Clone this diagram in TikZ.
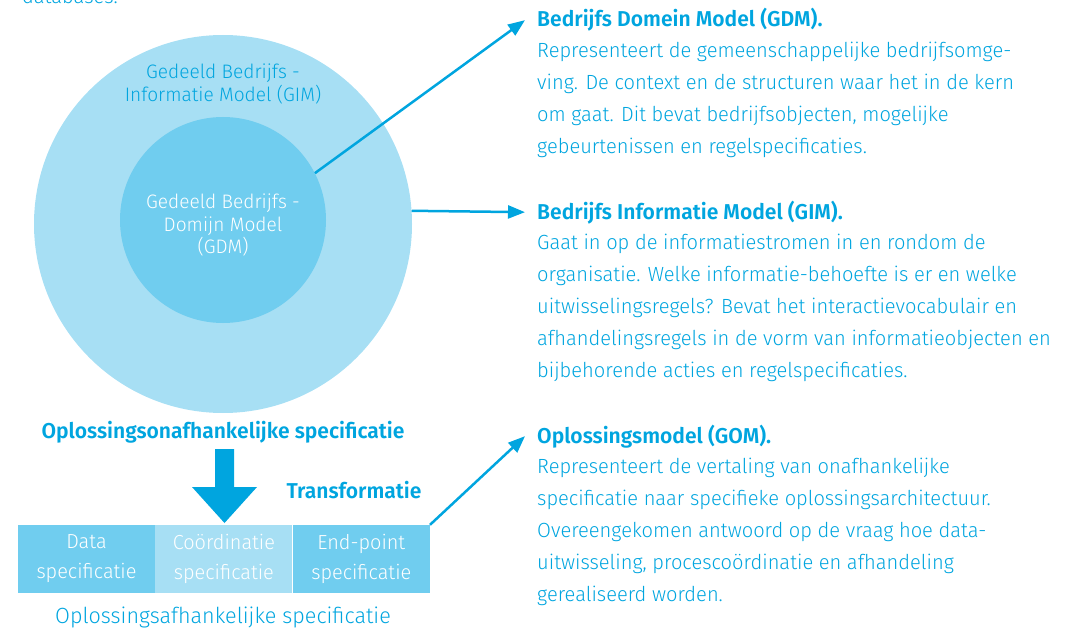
\documentclass[tikz,border=0pt]{standalone}
\usepackage{fontspec}
\setmainfont{Fira Sans}[UprightFont=* Light,BoldFont=* SemiBold,FakeStretch=0.98]
\usetikzlibrary{positioning,arrows.meta}
\definecolor{skyblue}{HTML}{00A5DF}
\definecolor{paleblue}{HTML}{A7DFF4}
\definecolor{midblue}{HTML}{70CDEF}
\newcommand{\bodysize}{\fontsize{20.5}{32}\selectfont}
\newcommand{\headsize}{\fontsize{21.5}{32}\selectfont}
\newcommand{\labelsize}{\fontsize{19.5}{22.5}\selectfont}
\newcommand{\boxsize}{\fontsize{20.3}{30}\selectfont}

\begin{document}
\begin{tikzpicture}[x=1pt,y=-1pt,
	headtext/.style={anchor=base west,inner xsep=12pt,font=\headsize\bfseries,text=skyblue},
	bodytext/.style={anchor=north west,align=left,font=\bodysize,text=skyblue},
	ringlabel/.style={align=center,font=\labelsize},
	specbox/.style={minimum width=137pt,minimum height=68pt,align=center,font=\boxsize,text=white},
	pointer/.style={draw=skyblue,line width=2.5pt,-{Triangle[length=17pt,width=13pt]}}]
	\tikzstyle{every node}+=[inner sep=0pt]
	\useasboundingbox (0,0) rectangle (1073,631);
	\clip (0,0) rectangle (1073,631);
	% cut-off text at the top
	\node [anchor=base west,font=\bodysize,text=skyblue] (cutoff) at (22,4) {databases.};
	% the two rings
	\node [circle,fill=paleblue,minimum size=378pt] (gim) at (223,224) {};
	\node [circle,fill=midblue,minimum size=206pt] (gdm) at (223,220) {};
	\node [ringlabel,text=skyblue] (gimlabel) at (223,84) {Gedeeld Bedrijfs -\\Informatie Model (GIM)};
	\node [ringlabel,text=white] (gdmlabel) at (223,225) {Gedeeld Bedrijfs -\\Domijn Model\\(GDM)};
	% the three descriptions
	\node [headtext] (gdmhead) at (525,27) {Bedrijfs Domein Model (GDM).};
	\node [bodytext] (gdmbody) at (537,42) {Representeert de gemeenschappelijke bedrijfsomge-\\ving. De context en de structuren waar het in de kern\\om gaat. Dit bevat bedrijfsobjecten, mogelijke\\gebeurtenissen en regelspecificaties.};
	\node [headtext] (gimhead) at (525,219) {Bedrijfs Informatie Model (GIM).};
	\node [bodytext] (gimbody) at (537,234) {Gaat in op de informatiestromen in en rondom de\\organisatie. Welke informatie-behoefte is er en welke\\uitwisselingsregels? Bevat het interactievocabulair en\\afhandelingsregels in de vorm van informatieobjecten en\\bijbehorende acties en regelspecificaties.};
	\node [headtext] (gomhead) at (525,443) {Oplossingsmodel (GOM).};
	\node [bodytext] (gombody) at (537,458) {Representeert de vertaling van onafhankelijke\\specificatie naar specifieke oplossingsarchitectuur.\\Overeengekomen antwoord op de vraag hoe data-\\uitwisseling, procescoördinatie en afhandeling\\gerealiseerd worden.};
	% specification blocks
	\node [font=\headsize\bfseries,text=skyblue] (indep) at (223,432) {Oplossingsonafhankelijke specificatie};
	\node [specbox,fill=midblue] (dataspec) at (86.5,559) {Data\\specificatie};
	\node [specbox,fill=paleblue,right=0pt of dataspec] (coordspec) {Coördinatie\\specificatie};
	\node [specbox,fill=midblue,right=0pt of coordspec] (endspec) {End-point\\specificatie};
	\node [font=\headsize\bfseries,text=skyblue] (transf) at (354,490) {Transformatie};
	\node [font=\fontsize{22}{32}\selectfont,text=skyblue] (dep) at (223,617) {Oplossingsafhankelijke specificatie};
	\fill [skyblue] (215,449) -- (234,449) -- (234,487) -- (257,487) -- (224.5,523) -- (192,487) -- (215,487) -- cycle;
	% pointers
	\draw [pointer] (gdm.27) -- (gdmhead.west);
	\draw [pointer] (gim.4) -- (gimhead.west);
	\draw [pointer] (endspec.north east) -- (gomhead.west);
\end{tikzpicture}
\end{document}
